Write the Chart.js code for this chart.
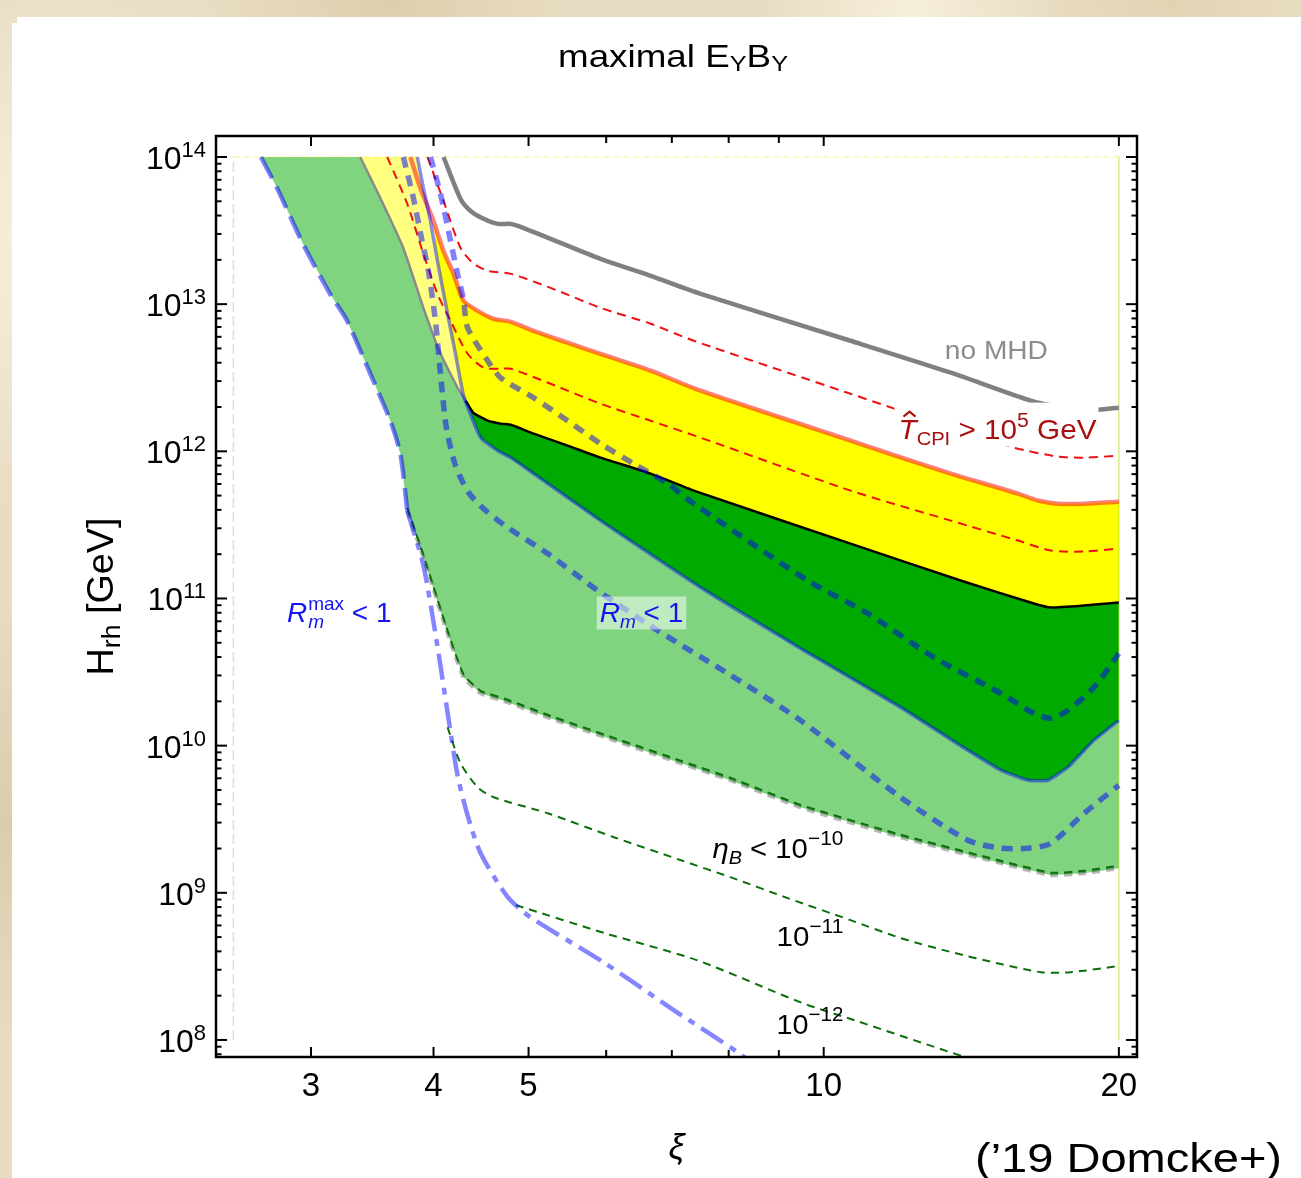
<!DOCTYPE html>
<html><head><meta charset="utf-8">
<script src="https://cdn.jsdelivr.net/npm/chart.js@4.4.1/dist/chart.umd.min.js"></script>
<style>
html,body{margin:0;padding:0;}
body{width:1301px;height:1178px;overflow:hidden;position:relative;background:#e8dcc2;
background-image:radial-gradient(circle at 5% 20%,rgba(255,250,232,0.7),rgba(255,250,232,0) 18%),
radial-gradient(circle at 30% 0%,rgba(214,198,160,0.6),rgba(214,198,160,0) 12%),
radial-gradient(circle at 70% 1%,rgba(250,244,225,0.8),rgba(250,244,225,0) 10%),
radial-gradient(circle at 1% 70%,rgba(210,193,155,0.6),rgba(210,193,155,0) 15%),
radial-gradient(circle at 90% 0%,rgba(220,205,170,0.6),rgba(220,205,170,0) 8%);}
#panel{position:absolute;left:12px;top:23px;right:0;bottom:0;background:#fff;}
#panel2{position:absolute;left:17px;top:17px;right:0;height:8px;background:#fff;}
canvas{position:absolute;left:0;top:0;}
</style></head><body>
<div id="panel"></div><div id="panel2"></div>
<canvas id="c" width="1301" height="1178" style="width:1301px;height:1178px"></canvas>
<script>
const FONT = "'Liberation Sans', Arial, Helvetica, sans-serif";

// ---- axis ticks ----
const xiMajorTicks = [3, 4, 5, 10, 20];
const xiMinorTicks = [6, 7, 8, 9];
const hMajorExponents = [8, 9, 10, 11, 12, 13, 14];
const hMinorMantissas = [2, 3, 4, 5, 6, 7, 8, 9];

// ---- curves (xi, H_rh in GeV) ----
const noMhdXi = [4.095, 4.262, 4.364, 4.500, 4.651, 4.796, 4.876, 5.265, 5.92, 6.66, 7.49, 10.65, 13.48, 16.26, 17.45, 19.04, 20];
const noMhdH  = [1e14, 5.19e13, 4.30e13, 3.80e13, 3.51e13, 3.51e13, 3.40e13, 2.78e13, 2.03e13, 1.557e13, 1.175e13, 5.64e12, 3.42e12, 2.21e12, 2.01e12, 1.92e12, 1.98e12];

const tcpiUpperXi = [3.943, 4.095, 4.262, 4.385, 4.543, 4.796, 5.265, 5.92, 6.66, 7.37, 10.65, 13.48, 15.63, 17.33, 18.43, 20];
const tcpiUpperH  = [1e14, 5.03e13, 2.41e13, 1.91e13, 1.684e13, 1.607e13, 1.29e13, 9.44e12, 7.36e12, 5.64e12, 2.46e12, 1.447e12, 1.059e12, 9.2e11, 9.06e11, 9.34e11];

const tcpiMainXi = [3.788, 3.878, 3.999, 4.095, 4.193, 4.293, 4.437, 4.607, 4.796, 5.06, 5.48, 5.92, 6.66, 7.49, 10.65, 13.48, 15.78, 16.54, 17.33, 18.43, 20];
const tcpiMainH  = [1e14, 6.16e13, 3.68e13, 2.30e13, 1.607e13, 1.053e13, 9.01e12, 7.95e12, 7.59e12, 6.59e12, 5.47e12, 4.60e12, 3.53e12, 2.58e12, 1.182e12, 7.05e11, 5.16e11, 4.63e11, 4.41e11, 4.41e11, 4.55e11];

const tcpiLowerXi = [3.588, 3.761, 3.906, 4.037, 4.163, 4.333, 4.500, 4.684, 4.796, 5.265, 5.92, 6.66, 7.49, 10.65, 13.48, 15.78, 17.05, 18.43, 20];
const tcpiLowerH  = [1e14, 4.80e13, 2.196e13, 1.175e13, 7.71e12, 4.60e12, 3.70e12, 3.64e12, 3.64e12, 2.88e12, 2.106e12, 1.615e12, 1.238e12, 5.41e11, 3.38e11, 2.475e11, 2.117e11, 2.084e11, 2.184e11];

const mhdEdgeXi = [3.367, 3.530, 3.726, 3.906, 4.066, 4.232, 4.313];
const mhdEdgeH  = [1e14, 5.27e13, 2.41e13, 9.44e12, 4.60e12, 2.705e12, 2.207e12];

const eqTopXi = [4.313, 4.391, 4.543, 4.684, 4.796, 5.06, 5.48, 5.92, 6.66, 7.37, 10.65, 13.79, 16.38, 17.05, 18.43, 20];
const eqTopH  = [2.207e12, 1.83e12, 1.615e12, 1.541e12, 1.517e12, 1.318e12, 1.093e12, 9.06e11, 7.05e11, 5.41e11, 2.36e11, 1.325e11, 9.25e10, 8.69e10, 8.96e10, 9.39e10];

const rmEdgeXi = [3.851, 3.906, 3.971, 4.037, 4.134, 4.212, 4.293, 4.468, 4.651, 4.796, 5.06, 5.48, 5.92, 7.49, 9.47, 11.98, 14.03, 15.16, 16.15, 16.93, 17.74, 18.86, 20];
const rmEdgeH  = [1e14, 6.16e13, 3.68e13, 1.968e13, 8.60e12, 4.60e12, 2.387e12, 1.238e12, 1.010e12, 9.06e11, 7.05e11, 4.85e11, 3.38e11, 1.187e11, 4.58e10, 1.82e10, 9.29e9, 6.80e9, 5.82e9, 5.82e9, 7.13e9, 1.087e10, 1.485e10];

const rmDash1Xi = [3.726, 3.815, 3.888, 3.952, 4.018, 4.075, 4.124, 4.212, 4.344, 4.521, 4.762, 5.23, 5.88, 6.77, 7.98, 9.47, 11.98, 14.03, 15.16, 16.15, 17.05, 18.43, 20];
const rmDash1H  = [1e14, 5.27e13, 2.82e13, 1.684e13, 7.71e12, 2.88e12, 1.425e12, 7.99e11, 5.24e11, 3.96e11, 3.03e11, 2.02e11, 1.133e11, 6.06e10, 3.10e10, 1.485e10, 4.46e9, 2.277e9, 2.009e9, 2.009e9, 2.173e9, 3.47e9, 5.38e9];

const rmDash2Xi = [3.971, 4.066, 4.163, 4.232, 4.293, 4.333, 4.543, 4.684, 5.06, 5.48, 5.92, 6.40, 6.93, 7.37, 9.627, 11.09, 12.95, 15.16, 16.38, 17.05, 17.74, 18.86, 20];
const rmDash2H  = [1e14, 5.61e13, 2.69e13, 1.607e13, 1.053e13, 6.91e12, 4.125e12, 3.16e12, 2.313e12, 1.615e12, 1.127e12, 8.25e11, 6.03e11, 4.41e11, 1.325e11, 7.91e10, 3.98e10, 2.266e10, 1.658e10, 1.532e10, 1.736e10, 2.489e10, 4.23e10];

const rmMaxUpperXi = [2.667, 2.770, 2.944, 3.137, 3.265, 3.448, 3.614, 3.700, 3.761];
const rmMaxUpperH  = [1e14, 6.16e13, 2.568e13, 1.175e13, 7.71e12, 3.366e12, 1.615e12, 9.64e11, 3.96e11];

const rmMaxLowerXi = [3.761, 3.906, 4.028, 4.134, 4.232, 4.333, 4.468, 4.762, 5.02, 5.98, 7.03, 8.19, 8.62];
const rmMaxLowerH  = [3.96e11, 1.675e11, 5.19e10, 1.684e10, 6.29e9, 3.365e9, 1.858e9, 9.34e8, 6.84e8, 3.33e8, 1.597e8, 8.16e7, 6.26e7];

const etaEdgeXi = [3.761, 3.906, 4.134, 4.293, 4.468, 4.762, 5.23, 6.11, 7.15, 8.03, 9.47, 11.98, 15.16, 17.05, 18.43, 20];
const etaEdgeH  = [3.96e11, 1.898e11, 5.79e10, 2.91e10, 2.266e10, 1.968e10, 1.557e10, 1.087e10, 7.59e9, 5.82e9, 3.81e9, 2.386e9, 1.590e9, 1.318e9, 1.359e9, 1.470e9];
const eta10H    = [4.12e11, 1.97e11, 6.02e10, 3.03e10, 2.36e10, 2.05e10, 1.62e10, 1.13e10, 7.9e9, 6.05e9, 3.96e9, 2.48e9, 1.65e9, 1.37e9, 1.41e9, 1.53e9];

const eta11Xi = [4.134, 4.262, 4.437, 4.607, 5.23, 6.11, 7.15, 8.03, 9.19, 10.65, 11.98, 13.48, 15.16, 16.65, 17.87, 20];
const eta11H  = [1.332e10, 7.59e9, 5.21e9, 4.46e9, 3.47e9, 2.386e9, 1.666e9, 1.277e9, 9.20e8, 6.52e8, 4.92e8, 3.96e8, 3.28e8, 2.89e8, 2.89e8, 3.18e8];

const eta12Xi = [4.853, 5.98, 7.42, 9.515, 10.73, 13.93, 15.16];
const eta12H  = [8.25e8, 5.32e8, 3.49e8, 1.78e8, 1.367e8, 7.66e7, 6.45e7];

const frameXi = [2.5, 20];
const frameH = [1e8, 1e14];

// label anchor positions (xi, H)
const labelSpots = {
  noMhd: [15.0, 4.26e12], tcpi: [11.92, 1.22e12], rm: [5.91, 6.87e10], rmMax: [2.835, 6.87e10],
  eta10: [7.70, 1.718e9], eta11: [8.95, 4.345e8], eta12: [8.95, 1.099e8]
};

// ---- build datasets ----
const P = (xs, hs) => xs.map((x, i) => ({x: x, y: hs[i]}));
const rev = a => a.slice().reverse();
const noMhd = P(noMhdXi, noMhdH), tcpiUpper = P(tcpiUpperXi, tcpiUpperH), tcpiMain = P(tcpiMainXi, tcpiMainH);
const tcpiLower = P(tcpiLowerXi, tcpiLowerH), mhdEdge = P(mhdEdgeXi, mhdEdgeH), eqTop = P(eqTopXi, eqTopH);
const rmEdge = P(rmEdgeXi, rmEdgeH), rmDash1 = P(rmDash1Xi, rmDash1H), rmDash2 = P(rmDash2Xi, rmDash2H);
const rmMaxUpper = P(rmMaxUpperXi, rmMaxUpperH), rmMaxLower = P(rmMaxLowerXi, rmMaxLowerH);
const etaEdge = P(etaEdgeXi, etaEdgeH), eta10 = P(etaEdgeXi, eta10H), eta11 = P(eta11Xi, eta11H), eta12 = P(eta12Xi, eta12H);

const lightGreenPoly = [...mhdEdge, ...eqTop.slice(1), ...rev(etaEdge), ...rev(rmMaxUpper)];
const darkGreenPoly = [...eqTop, ...rev(rmEdge.slice(7))];
const lightYellowPoly = [...mhdEdge, ...rev(rmEdge.slice(0, 7))];
const yellowPoly = [...tcpiMain.slice(2), ...rev(eqTop), ...rev(rmEdge.slice(3, 7))];

function lineDs(label, data, color, width, dash, order, tension) {
  return {label, data, borderColor: color, borderWidth: width, borderDash: dash || [], pointRadius: 0,
    pointHoverRadius: 0, fill: false, tension: tension === undefined ? 0.25 : tension, order,
    borderCapStyle: 'butt', borderJoinStyle: 'round'};
}
function fillDs(label, data, color, order) {
  return {label, data, backgroundColor: color, borderColor: 'rgba(0,0,0,0)', borderWidth: 0,
    pointRadius: 0, pointHoverRadius: 0, fill: 'shape', tension: 0, order};
}
const BLUE_T = 'rgba(0,0,255,0.5)';
const ETA = '#0b700b';
const datasets = [
  fillDs('light green', lightGreenPoly, '#80d480', 100),
  fillDs('dark green', darkGreenPoly, '#00aa00', 99),
  fillDs('light yellow', lightYellowPoly, '#ffff80', 98),
  fillDs('yellow', yellowPoly, '#ffff00', 97),
  lineDs('edge left', P([frameXi[0], frameXi[0]], frameH), 'rgba(0,170,0,0.22)', 1.5, [10, 4], 90, 0),
  lineDs('edge top', P(frameXi, [frameH[1], frameH[1]]), 'rgba(230,230,0,0.45)', 1.2, [6, 4], 90, 0),
  lineDs('edge right', P([frameXi[1], frameXi[1]], rev(frameH)), 'rgba(170,210,0,0.45)', 1.5, [], 90, 0),
  lineDs('eta edge', etaEdge, 'rgba(0,0,0,0.28)', 4, [8, 6], 60, 0.15),
  lineDs('eta 1e-10', eta10, ETA, 2, [8, 6], 59, 0.15),
  lineDs('eta 1e-11', eta11, ETA, 2, [8, 6], 58),
  lineDs('eta 1e-12', eta12, ETA, 2, [8, 6], 57),
  lineDs('Rm max upper', rmMaxUpper, BLUE_T, 4.5, [24, 9], 56),
  lineDs('Rm max lower', rmMaxLower, 'rgba(0,0,255,0.48)', 4.5, [26, 8, 7, 8], 55),
  lineDs('Tcpi lower', tcpiLower, '#f01010', 2, [9, 6], 50),
  lineDs('Tcpi upper', tcpiUpper, '#f01010', 2, [9, 6], 49),
  lineDs('no MHD', noMhd, '#808080', 4.5, [], 48),
  lineDs('MHD edge', mhdEdge, '#8a8a8a', 2.5, [], 47, 0.1),
  lineDs('eta top', eqTop, '#000000', 2.5, [], 46, 0.15),
  lineDs('Tcpi main', tcpiMain, 'rgba(255,0,0,0.5)', 4.5, [], 45),
  lineDs('Rm edge', rmEdge, 'rgba(0,0,255,0.45)', 3.5, [], 44, 0.15),
  lineDs('Rm dash 1', rmDash1, BLUE_T, 5.5, [11, 8], 43),
  lineDs('Rm dash 2', rmDash2, BLUE_T, 5.5, [11, 8], 42)
];

// ---- rich text helpers ----
function fnt(p) { return (p.i ? 'italic ' : '') + p.s + 'px ' + FONT; }
function richWidth(ctx, parts) { let w = 0; for (const p of parts) { ctx.font = fnt(p); w += ctx.measureText(p.t).width; } return w; }
// draws parts; if fitW given, text is scaled horizontally to that width
function drawRich(ctx, parts, x, y, align, color, fitW) {
  const natural = richWidth(ctx, parts);
  const sx = fitW ? fitW / natural : 1;
  const total = natural * sx;
  const x0 = align === 'center' ? x - total / 2 : (align === 'right' ? x - total : x);
  ctx.save();
  ctx.translate(x0, y);
  ctx.scale(sx, 1);
  let cx = 0;
  for (const p of parts) {
    ctx.font = fnt(p); ctx.fillStyle = p.c || color;
    ctx.fillText(p.t, cx, p.dy || 0);
    cx += ctx.measureText(p.t).width;
  }
  ctx.restore();
  return total;
}

const decor = {
  id: 'decor',
  afterDatasetsDraw(chart) {
    const ctx = chart.ctx, xs = chart.scales.x, ys = chart.scales.y;
    const at = k => [xs.getPixelForValue(labelSpots[k][0]), ys.getPixelForValue(labelSpots[k][1])];
    ctx.save();
    ctx.textBaseline = 'alphabetic';
    // no MHD
    let [x, y] = at('noMhd');
    drawRich(ctx, [{t: 'no MHD', s: 26}], x, y, 'center', '#8c8c8c', 103);
    // T_CPI label with white box
    [x, y] = at('tcpi');
    const tParts = [{t: 'T', s: 28, i: true}, {t: 'CPI', s: 19, dy: 6}, {t: ' > 10', s: 28}, {t: '5', s: 20, dy: -12}, {t: ' GeV', s: 28}];
    const tw = 198;
    ctx.fillStyle = '#ffffff';
    ctx.fillRect(x - 4, y - 36, tw + 6, 44);
    drawRich(ctx, tParts, x, y, 'left', '#a80f0f', tw);
    ctx.strokeStyle = '#a80f0f'; ctx.lineWidth = 2; ctx.setLineDash([]);
    ctx.beginPath(); ctx.moveTo(x + 5, y - 22); ctx.lineTo(x + 11, y - 27); ctx.lineTo(x + 17, y - 22); ctx.stroke();
    // R_m < 1 with translucent box
    [x, y] = at('rm');
    const rParts = [{t: 'R', s: 28, i: true}, {t: 'm', s: 19, i: true, dy: 6}, {t: ' < 1', s: 28}];
    const rw = richWidth(ctx, rParts);
    ctx.fillStyle = 'rgba(255,255,255,0.5)';
    ctx.fillRect(x - 3, y - 26, rw + 6, 33);
    drawRich(ctx, rParts, x, y, 'left', '#1414f0');
    // R_m^max < 1
    [x, y] = at('rmMax');
    ctx.fillStyle = '#1414f0';
    ctx.font = fnt({s: 28, i: true}); ctx.fillText('R', x, y);
    let cx = x + ctx.measureText('R').width + 1;
    ctx.font = fnt({s: 19}); ctx.fillText('max', cx, y - 12);
    const wMax = ctx.measureText('max').width;
    ctx.font = fnt({s: 19, i: true}); ctx.fillText('m', cx, y + 6);
    cx += wMax;
    ctx.font = fnt({s: 28}); ctx.fillText(' < 1', cx, y);
    // eta labels
    [x, y] = at('eta10');
    drawRich(ctx, [{t: 'η', s: 28, i: true}, {t: 'B', s: 19, i: true, dy: 6}, {t: ' < 10', s: 28}, {t: '−10', s: 20, dy: -13}], x, y, 'left', '#000', 131);
    [x, y] = at('eta11');
    drawRich(ctx, [{t: '10', s: 28}, {t: '−11', s: 20, dy: -13}], x, y, 'left', '#000', 67);
    [x, y] = at('eta12');
    drawRich(ctx, [{t: '10', s: 28}, {t: '−12', s: 20, dy: -13}], x, y, 'left', '#000', 67);
    ctx.restore();
  },
  afterDraw(chart) {
    const ctx = chart.ctx, xs = chart.scales.x, ys = chart.scales.y, a = chart.chartArea;
    ctx.save();
    ctx.setLineDash([]);
    ctx.strokeStyle = '#000';
    // frame
    ctx.lineWidth = 2.5;
    ctx.strokeRect(a.left, a.top, a.right - a.left, a.bottom - a.top);
    // inward ticks
    ctx.lineWidth = 2;
    const seg = (x1, y1, x2, y2) => { ctx.beginPath(); ctx.moveTo(x1, y1); ctx.lineTo(x2, y2); ctx.stroke(); };
    for (const n of hMajorExponents) {
      const y = ys.getPixelForValue(Math.pow(10, n));
      seg(a.left, y, a.left + 11, y); seg(a.right, y, a.right - 11, y);
    }
    for (let n = 7; n <= 13; n++) {
      for (const m of hMinorMantissas) {
        const v = m * Math.pow(10, n);
        if (v < ys.min || v > ys.max) continue;
        const y = ys.getPixelForValue(v);
        seg(a.left, y, a.left + 5.5, y); seg(a.right, y, a.right - 5.5, y);
      }
    }
    for (const v of xiMajorTicks) {
      const x = xs.getPixelForValue(v);
      seg(x, a.bottom, x, a.bottom - 10); seg(x, a.top, x, a.top + 10);
    }
    for (const v of xiMinorTicks) {
      const x = xs.getPixelForValue(v);
      seg(x, a.bottom, x, a.bottom - 7); seg(x, a.top, x, a.top + 7);
    }
    // y tick labels 10^n
    ctx.textBaseline = 'alphabetic';
    for (const n of hMajorExponents) {
      const y = ys.getPixelForValue(Math.pow(10, n));
      drawRich(ctx, [{t: '10', s: 32}, {t: String(n), s: 22, dy: -12}], 206, y + 12, 'right', '#000');
    }
    // y axis title
    ctx.save();
    ctx.translate(113, (a.top + a.bottom) / 2);
    ctx.rotate(-Math.PI / 2);
    drawRich(ctx, [{t: 'H', s: 37}, {t: 'rh', s: 26, dy: 7}, {t: ' [GeV]', s: 37}], 0, 0, 'center', '#000', 158);
    ctx.restore();
    // title
    drawRich(ctx, [{t: 'maximal E', s: 32}, {t: 'Y', s: 22, dy: 4}, {t: 'B', s: 32}, {t: 'Y', s: 22, dy: 4}], 558, 67, 'left', '#000', 230);
    // credit
    drawRich(ctx, [{t: '(\u201919 Domcke+)', s: 40}], 975, 1172, 'left', '#000', 307);
    ctx.restore();
  }
};

Chart.defaults.font.family = FONT;
new Chart(document.getElementById('c'), {
  type: 'line',
  data: {datasets},
  plugins: [decor],
  options: {
    responsive: false, animation: false, devicePixelRatio: 1, events: [],
    layout: {padding: {left: 0, top: 136, right: 164, bottom: 0}},
    plugins: {legend: {display: false}, tooltip: {enabled: false}, title: {display: false}},
    scales: {
      x: {
        type: 'logarithmic', min: 2.4, max: 20.87, position: 'bottom',
        grid: {display: false, drawTicks: false}, border: {display: false},
        afterBuildTicks: s => { s.ticks = xiMajorTicks.map(v => ({value: v})); },
        afterFit: s => { s.height = 121; },
        ticks: {autoSkip: false, maxRotation: 0, minRotation: 0, padding: 10, color: '#000',
          font: {family: FONT, size: 33}, callback: v => String(v)},
        title: {display: true, text: 'ξ', color: '#000', font: {family: FONT, size: 36, style: 'italic'}, padding: {top: 0, bottom: 7}}
      },
      y: {
        type: 'logarithmic', min: 7.66e7, max: 1.389e14, position: 'left',
        grid: {display: false, drawTicks: false}, border: {display: false},
        ticks: {display: false},
        afterFit: s => { s.width = 216; }
      }
    }
  }
});
</script></body></html>
